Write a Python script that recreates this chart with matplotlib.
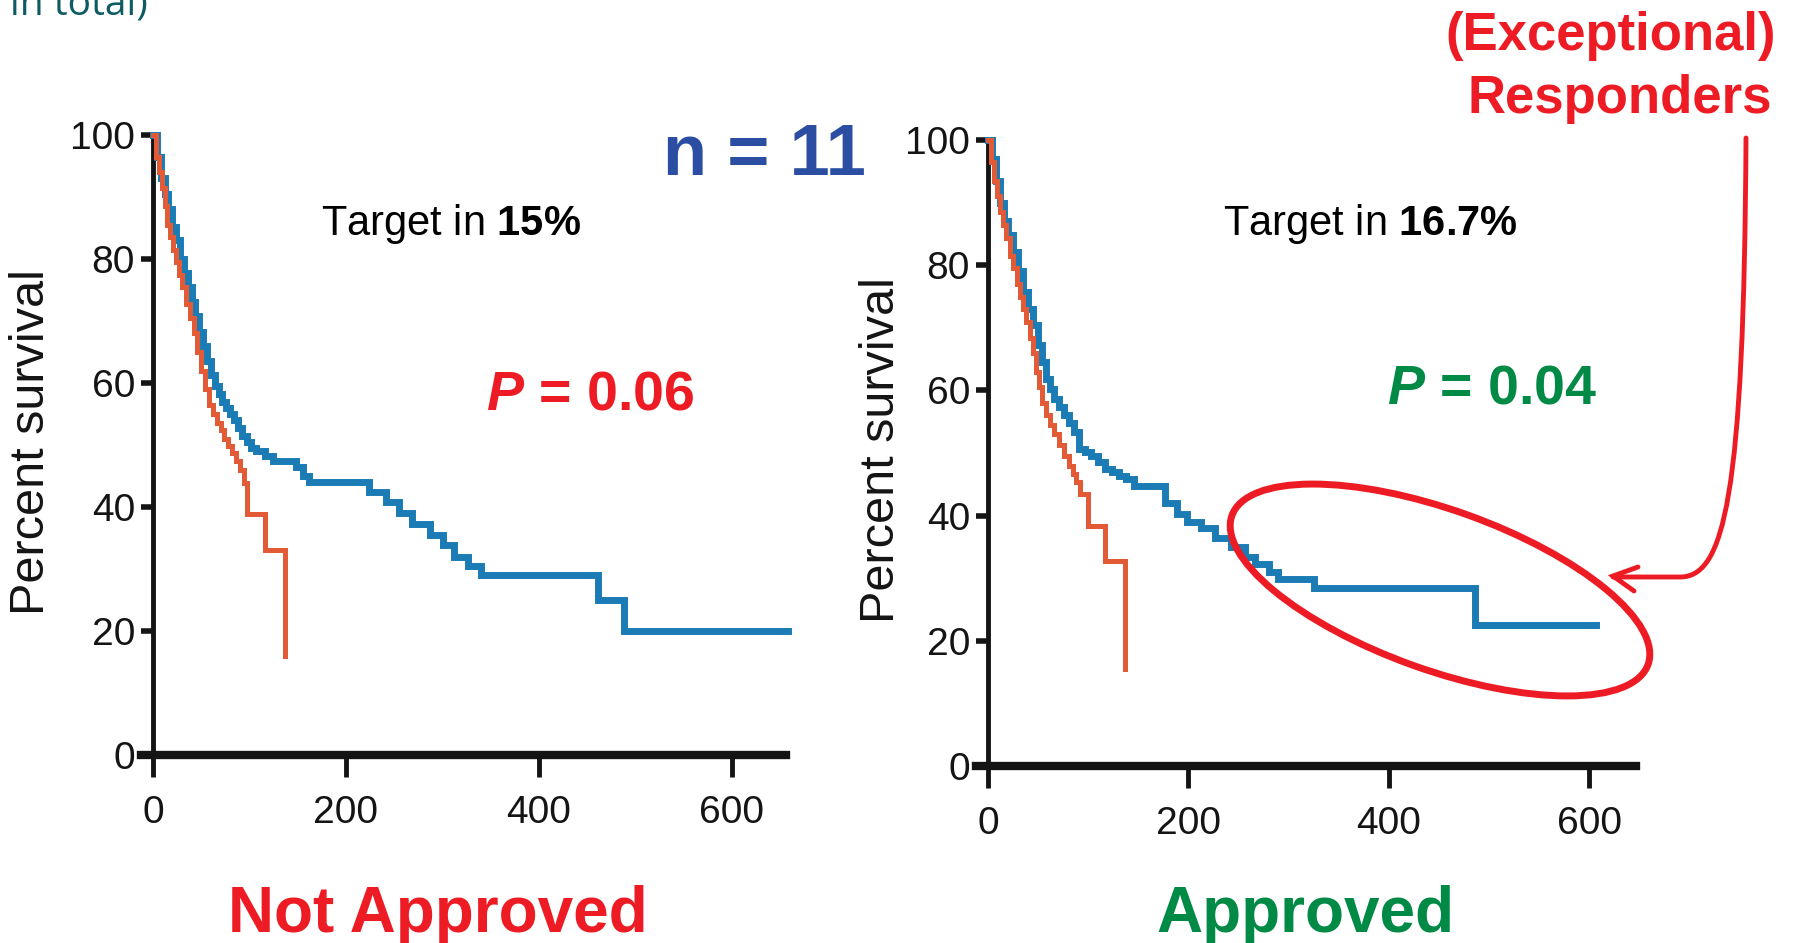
import matplotlib
matplotlib.use("Agg")
import matplotlib.pyplot as plt
from matplotlib.patches import Ellipse, PathPatch
from matplotlib.path import Path

# ---------------- data ----------------
x_ticks = [0, 200, 400, 600]
y_ticks = [0, 20, 40, 60, 80, 100]

left_blue_days = [0, 4, 8, 12, 16, 20, 24, 28, 32, 36, 40, 44, 48, 52, 56, 60, 64, 68, 72, 76,
                  80, 84, 88, 92, 97, 102, 107, 116, 124, 148, 155, 162, 224, 241, 255, 268,
                  287, 301, 312, 326, 340, 461, 488, 658]
left_blue_surv = [100, 96.5, 93, 90.5, 88, 85.2, 83, 80, 77.8, 75.5, 73, 70.8, 68.3, 66, 63.5,
                  61.3, 59.5, 58.3, 57, 56, 55, 54, 52.8, 51.5, 50.5, 49.5, 49, 48.2, 47.5,
                  46.5, 45, 44, 42.5, 40.8, 39, 37.3, 35.5, 33.8, 32, 30.5, 29, 25, 20, 20]
left_orange_days = [0, 3, 6, 9, 12, 15, 18, 21, 24, 27, 30, 34, 38, 42, 46, 50, 54, 58, 62, 66,
                    70, 74, 78, 82, 86, 90, 94, 97, 116, 137]
left_orange_surv = [100, 96.5, 94, 91.5, 88.5, 85.5, 83.5, 81.5, 79.5, 77.5, 75.5, 72.7, 70.5,
                    68, 65, 62, 59, 56.5, 55, 53.5, 52.5, 51, 49.8, 48.7, 47.5, 45.9, 43.8,
                    38.8, 33, 16]

right_blue_days = [0, 4, 8, 12, 16, 20, 25, 30, 35, 40, 45, 50, 54, 58, 62, 66, 71, 76, 81, 86,
                   91, 97, 103, 110, 117, 124, 131, 138, 146, 177, 189, 199, 213, 227, 242,
                   256, 266, 280, 289, 325, 486, 607]
right_blue_surv = [100, 97, 93.5, 90, 87, 84.8, 82.1, 79, 75.7, 73, 70.4, 67.3, 64.5, 61.9,
                   60.2, 58.7, 57.3, 56, 54.8, 53.3, 50.7, 50.2, 49.6, 48.6, 47.5, 47, 46.4,
                   45.9, 44.8, 42, 40.2, 39, 38, 36.5, 35, 33.4, 32.2, 31, 29.8, 28.4, 22.5,
                   22.5]
right_orange_days = [0, 3, 6, 9, 12, 15, 18, 22, 25, 29, 32, 35, 38, 42, 45, 48, 51, 54, 58, 62,
                     66, 71, 76, 81, 85, 88, 92, 100, 117, 137]
right_orange_surv = [100, 96.5, 93.5, 91, 88.5, 86.5, 84.3, 81.5, 79.5, 77, 75, 73, 71, 68.3,
                     66, 63, 60.5, 58, 56, 54.4, 53, 51.2, 49.5, 48, 46.6, 45.3, 43.5, 38.3,
                     32.8, 15.5]

target_pcts = ["15%", "16.7%"]
p_values = ["0.06", "0.04"]
panel_titles = ["Not Approved", "Approved"]
n_label = "n = 11"
y_label = "Percent survival"

# ---------------- style ----------------
W, H = 1800, 943
BLUE = "#1b7bb4"
ORANGE = "#e35b36"
RED = "#ed1c24"
GREEN = "#008a45"
NBLUE = "#2b4ea2"
TEAL = "#0d5c63"
BLACK = "#141414"

rc = plt.rcParams
rc["font.family"] = ["Liberation Sans", "DejaVu Sans"]
rc["mathtext.fontset"] = "custom"
rc["mathtext.rm"] = "Liberation Sans"
rc["mathtext.bf"] = "Liberation Sans:bold"
rc["mathtext.it"] = "Liberation Sans:italic:bold"

fig = plt.figure(figsize=(W / 100, H / 100), dpi=100)
fig.patch.set_facecolor("white")


def px_rect(x0, x1, y_top, y_bot):
    return [x0 / W, 1 - y_bot / H, (x1 - x0) / W, (y_bot - y_top) / H]


def draw_panel(ax, bt, bs, ot, os_, xmax):
    ax.step(bt, bs, where="post", color=BLUE, lw=5.0, clip_on=False, zorder=3,
            solid_joinstyle="miter")
    ax.step(ot, os_, where="post", color=ORANGE, lw=3.6, clip_on=False, zorder=4,
            solid_joinstyle="miter")
    ax.set_xlim(-12, xmax)
    ax.set_ylim(0, 100)
    for s in ("top", "right"):
        ax.spines[s].set_visible(False)
    ax.spines["left"].set_position(("data", 0))
    ax.spines["left"].set_linewidth(3.5)
    ax.spines["left"].set_color(BLACK)
    ax.spines["bottom"].set_linewidth(6)
    ax.spines["bottom"].set_color(BLACK)
    ax.set_xticks(x_ticks)
    ax.set_yticks(y_ticks)
    ax.tick_params(axis="x", direction="out", length=16, width=3.5, pad=13,
                   labelsize=28, color=BLACK, labelcolor=BLACK)
    ax.tick_params(axis="y", direction="out", length=9, width=4, pad=4,
                   labelsize=28, color=BLACK, labelcolor=BLACK)
    ax.patch.set_alpha(0)


axL = fig.add_axes(px_rect(141.4, 786.0, 135, 755))
draw_panel(axL, left_blue_days, left_blue_surv, left_orange_days, left_orange_surv, 656)
axR = fig.add_axes(px_rect(976.0, 1636.3, 140, 766))
draw_panel(axR, right_blue_days, right_blue_surv, right_orange_days, right_orange_surv, 647)

# ---------------- overlay in pixel coordinates ----------------
ov = fig.add_axes([0, 0, 1, 1], zorder=10)
ov.set_xlim(0, W)
ov.set_ylim(H, 0)
ov.axis("off")
ov.patch.set_alpha(0)

ov.text(10, 15, "in total)", fontsize=28, color=TEAL, family=["Open Sans", "DejaVu Sans"],
        ha="left", va="baseline")
ov.text(764, 175, n_label, fontsize=52, fontweight="bold", color=NBLUE, ha="center", va="baseline")

ov.text(321, 235, r"Target in $\mathbf{" + target_pcts[0].replace("%", r"\%") + "}$",
        fontsize=30, color="black", ha="left", va="baseline")
ov.text(1223, 235, r"Target in $\mathbf{" + target_pcts[1].replace("%", r"\%") + "}$",
        fontsize=30, color="black", ha="left", va="baseline")

ov.text(486, 410, r"$\mathit{P}$ = " + p_values[0], fontsize=40, fontweight="bold",
        color=RED, ha="left", va="baseline")
ov.text(1387, 404, r"$\mathit{P}$ = " + p_values[1], fontsize=40, fontweight="bold",
        color=GREEN, ha="left", va="baseline")

ov.text(438, 932, panel_titles[0], fontsize=46, fontweight="bold", color=RED,
        ha="center", va="baseline")
ov.text(1305, 932, panel_titles[1], fontsize=46, fontweight="bold", color=GREEN,
        ha="center", va="baseline")

ov.text(1611, 50, "(Exceptional)", fontsize=38, fontweight="bold", color=RED,
        ha="center", va="baseline")
ov.text(1620, 113, "Responders", fontsize=38, fontweight="bold", color=RED,
        ha="center", va="baseline")

ov.text(32, 442, y_label, fontsize=35, rotation=90, color=BLACK, ha="center", va="center")
ov.text(882, 450, y_label, fontsize=35, rotation=90, color=BLACK, ha="center", va="center")

# ellipse around responders
ov.add_patch(Ellipse((1440, 590), width=442, height=160, angle=19.7, fill=False,
                     edgecolor=RED, lw=5))
# curved arrow
path = Path([(1746, 138), (1744, 500), (1724, 577), (1680, 577), (1613, 577)],
            [Path.MOVETO, Path.CURVE4, Path.CURVE4, Path.CURVE4, Path.LINETO])
ov.add_patch(PathPatch(path, fill=False, edgecolor=RED, lw=3.5, capstyle="round"))
ov.plot([1638, 1613, 1634], [567, 576, 591], color=RED, lw=3.5,
        solid_capstyle="round", solid_joinstyle="miter")

fig.savefig("out.png", dpi=100, facecolor="white")
